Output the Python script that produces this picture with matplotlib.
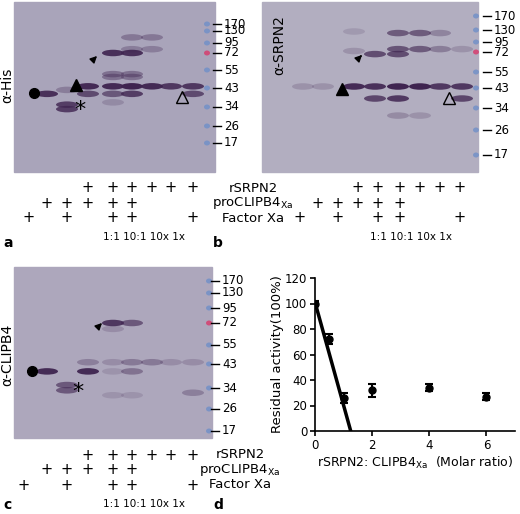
import numpy as np
import matplotlib
matplotlib.use("Agg")
import matplotlib.pyplot as plt
from matplotlib.patches import Rectangle, Ellipse

# ---- data ----
marker_kda = [170, 130, 95, 72, 55, 43, 34, 26, 17]
marker_y_a = [24, 31, 43, 53, 70, 88, 107, 126, 143]
marker_y_b = [16, 30, 42, 52, 72, 88, 108, 130, 155]
marker_y_c = [281, 293, 308, 323, 345, 364, 388, 409, 431]

lanes_a = [29, 47, 67, 88, 113, 132, 152, 171, 193]
lanes_b = [283, 303, 323, 354, 375, 398, 420, 440, 462]
lanes_c = lanes_a

# bands: (lane index, kDa, intensity 0-1)
bands_a = [(1, 40, 0.9), (2, 42, 0.3), (2, 35, 0.8), (2, 33, 0.8),
           (3, 44, 0.95), (3, 40, 0.7),
           (4, 72, 0.9), (4, 52, 0.4), (4, 50, 0.4), (4, 44, 0.95), (4, 40, 0.6), (4, 36, 0.2),
           (5, 72, 0.9), (5, 110, 0.35), (5, 80, 0.3), (5, 52, 0.4), (5, 50, 0.4), (5, 44, 1.0), (5, 40, 0.8),
           (6, 110, 0.35), (6, 80, 0.3), (6, 44, 0.95),
           (7, 44, 0.85), (8, 44, 0.85), (8, 40, 0.7)]
bands_b = [(1, 44, 0.2), (2, 44, 0.2),
           (3, 44, 0.95), (3, 74, 0.2), (3, 125, 0.15),
           (4, 44, 0.9), (4, 70, 0.7), (4, 38, 0.75),
           (5, 44, 1.0), (5, 120, 0.6), (5, 78, 0.65), (5, 70, 0.7), (5, 38, 0.85), (5, 31, 0.25),
           (6, 44, 1.0), (6, 120, 0.6), (6, 78, 0.6), (6, 31, 0.2),
           (7, 44, 0.85), (7, 120, 0.3), (7, 78, 0.35),
           (8, 44, 0.85), (8, 38, 0.75), (8, 78, 0.2)]
bands_c = [(1, 40, 0.95), (2, 35, 0.6), (2, 33, 0.6),
           (3, 40, 0.95), (3, 44, 0.3),
           (4, 72, 0.85), (4, 67, 0.2), (4, 44, 0.2), (4, 40, 0.15), (4, 31, 0.15),
           (5, 72, 0.6), (5, 44, 0.35), (5, 40, 0.4), (5, 31, 0.15),
           (6, 44, 0.35), (7, 44, 0.2), (8, 44, 0.2), (8, 32, 0.3)]

row_labels = ["rSRPN2", "proCLIPB4$_{\\mathregular{Xa}}$", "Factor Xa"]
plus_rows = [[3, 4, 5, 6, 7, 8], [1, 2, 3, 4, 5], [0, 2, 4, 5, 8]]
ratio_text = "1:1 10:1 10x 1x"
plus_x_a = [29, 47, 67, 88, 113, 132, 152, 171, 193]
plus_x_b = [300, 318, 338, 358, 378, 400, 420, 440, 460]
plus_x_c = [24, 47, 67, 88, 113, 132, 152, 171, 193]

ratio = [0, 0.5, 1, 2, 4, 6]
activity = [100, 72, 26, 32, 34, 27]
act_err = [2, 4, 4, 5, 3, 3]
fit_x = [0, 1.25]
fit_y = [101, 0]

band_color = "#3f2450"

fig = plt.figure(figsize=(5.2, 5.14), dpi=100)
ax = fig.add_axes([0, 0, 1, 1])
ax.set_xlim(0, 520)
ax.set_ylim(514, 0)
ax.axis("off")


def draw_blot(x0, y0, x1, y1, bg, lanes, bands, my, ladder_x, lab_x):
    ax.add_patch(Rectangle((x0, y0), x1 - x0, y1 - y0, color=bg, zorder=1))
    logk = np.log(marker_kda)[::-1]
    ys = np.array(my)[::-1]
    for lane, kda, inten in bands:
        y = np.interp(np.log(kda), logk, ys)
        ax.add_patch(Ellipse((lanes[lane], y), 22, 6.5, color=band_color,
                             alpha=inten, lw=0, zorder=2))
    for k, y in zip(marker_kda, my):
        c = "#d8386a" if k == 72 else "#6f8fc8"
        ax.add_patch(Ellipse((ladder_x, y), 6, 5, color=c, alpha=0.8, lw=0, zorder=2))
        ax.plot([lab_x - 11, lab_x - 3], [y, y], color="black", lw=1)
        ax.text(lab_x, y, str(k), fontsize=8.5, va="center", ha="left")


def draw_rows(xs, y0, ratio_x):
    for r, lanes in enumerate(plus_rows):
        for i in lanes:
            ax.text(xs[i], y0 + r * 15, "+", fontsize=10.5, ha="center", va="center")
    ax.text(ratio_x, y0 + 49, ratio_text, fontsize=7.5, ha="left", va="center")


def draw_labels(x, y0):
    for r, lab in enumerate(row_labels):
        ax.text(x, y0 + r * 15, lab, fontsize=9.5, ha="center", va="center")


draw_blot(14, 2, 215, 172, "#a9a4ba", lanes_a, bands_a, marker_y_a, 207, 224)
draw_blot(262, 2, 478, 172, "#b2aec0", lanes_b, bands_b, marker_y_b, 476, 494)
draw_blot(14, 267, 212, 438, "#ada7bc", lanes_c, bands_c, marker_y_c, 209, 222)

ax.text(7, 85, "α-His", rotation=90, fontsize=10, ha="center", va="center")
ax.text(279, 45, "α-SRPN2", rotation=90, fontsize=10, ha="center", va="center")
ax.text(7, 355, "α-CLIPB4", rotation=90, fontsize=10, ha="center", va="center")

# symbols
ax.plot(34, 93, "o", color="black", ms=7)
ax.plot(76, 85, "^", color="black", ms=8)
ax.text(80, 110, "*", fontsize=16, ha="center", va="center")
ax.annotate("", xy=(99, 54), xytext=(93, 60), arrowprops=dict(arrowstyle="-|>", color="black", lw=1))
ax.plot(182, 97, "^", mfc="none", mec="black", ms=8)
ax.plot(342, 89, "^", color="black", ms=8)
ax.annotate("", xy=(364, 53), xytext=(358, 59), arrowprops=dict(arrowstyle="-|>", color="black", lw=1))
ax.plot(449, 98, "^", mfc="none", mec="black", ms=8)
ax.plot(32, 371, "o", color="black", ms=7)
ax.text(78, 392, "*", fontsize=16, ha="center", va="center")
ax.annotate("", xy=(104, 321), xytext=(98, 327), arrowprops=dict(arrowstyle="-|>", color="black", lw=1))

draw_rows(plus_x_a, 188, 103)
draw_rows(plus_x_b, 188, 370)
draw_rows(plus_x_c, 455, 103)
draw_labels(253, 188)
draw_labels(240, 455)

for lab, x, y in [("a", 3, 243), ("b", 213, 243), ("c", 3, 505), ("d", 213, 505)]:
    ax.text(x, y, lab, fontsize=10, fontweight="bold", ha="left", va="center")

# panel d
axd = fig.add_axes([315 / 520, (514 - 431) / 514, 200 / 520, 153 / 514])
axd.errorbar(ratio, activity, yerr=act_err, fmt="o", color="black", ms=5,
             capsize=3, elinewidth=1.5, capthick=1.5)
axd.plot(fit_x, fit_y, color="black", lw=2.5)
axd.set_xlim(0, 7)
axd.set_ylim(0, 120)
axd.set_xticks([0, 2, 4, 6])
axd.set_yticks(range(0, 121, 20))
axd.tick_params(labelsize=8.5, width=1.2, pad=2)
axd.spines["top"].set_visible(False)
axd.spines["right"].set_visible(False)
axd.spines["left"].set_linewidth(1.2)
axd.spines["bottom"].set_linewidth(1.2)
axd.set_ylabel("Residual activity(100%)", fontsize=9.5, labelpad=1)
axd.set_xlabel("rSRPN2: CLIPB4$_{\\mathregular{Xa}}$  (Molar ratio)", fontsize=9, labelpad=2)

fig.savefig("out.png", dpi=100)
